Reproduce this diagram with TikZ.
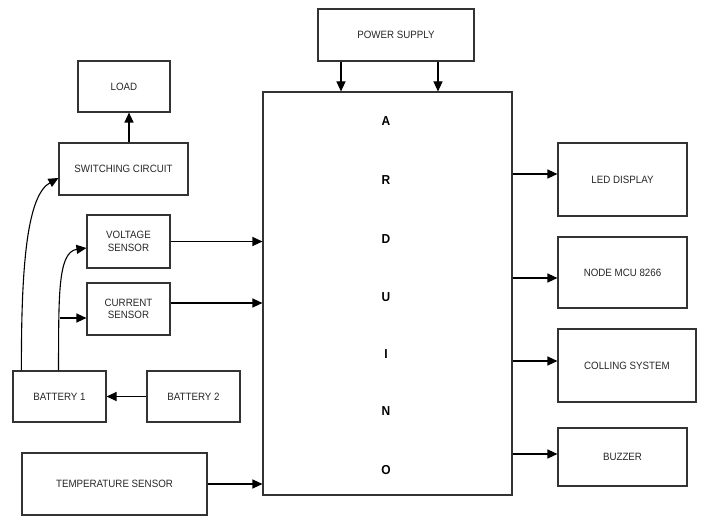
\documentclass[tikz,border=0pt]{standalone}
\usepackage{fontspec}
\setmainfont{Liberation Sans}[FakeStretch=0.92]
\usetikzlibrary{arrows.meta}
\begin{document}
\begin{tikzpicture}[x=1pt,y=-1pt,
  box/.style={draw=black!80,line width=1.1pt,rectangle,inner sep=1pt,align=center,font=\fontsize{10.6}{12.5}\selectfont,text=black!85},
  arr/.style={draw=black,line width=1.1pt,-{Triangle[length=10pt,width=9pt]}},
  letter/.style={font=\bfseries\fontsize{13}{15}\selectfont,inner sep=0pt}]
\useasboundingbox (0,0) rectangle (712,516);
% boxes
\node[box,minimum width=92pt,minimum height=51pt] (load) at (124,86.5) {LOAD};
\node[box,minimum width=129pt,minimum height=52pt] (sw) at (123.5,169) {SWITCHING CIRCUIT};
\node[box,minimum width=83pt,minimum height=53pt] (vs) at (128.5,241.5) {VOLTAGE\\SENSOR};
\node[box,minimum width=83pt,minimum height=52pt] (cs) at (128.5,309) {CURRENT\\SENSOR};
\node[box,minimum width=93pt,minimum height=51pt] (b1) at (59.5,396.5) {BATTERY 1};
\node[box,minimum width=93pt,minimum height=51pt] (b2) at (193.5,396.5) {BATTERY 2};
\node[box,minimum width=185pt,minimum height=62pt] (ts) at (114.5,484) {TEMPERATURE SENSOR};
\node[box,minimum width=156pt,minimum height=52pt] (ps) at (396,35) {POWER SUPPLY};
\node[box,minimum width=249pt,minimum height=403pt] (ard) at (387.5,293.5) {};
\node[box,minimum width=129pt,minimum height=73pt] (led) at (622.5,179.5) {LED DISPLAY};
\node[box,minimum width=129pt,minimum height=71pt] (mcu) at (622.5,272.5) {NODE MCU 8266};
\node[box,minimum width=138pt,minimum height=73pt] (cool) at (627,365.5) {COLLING SYSTEM};
\node[box,minimum width=129pt,minimum height=58pt] (buz) at (622.5,457) {BUZZER};
% Arduino letters
\node[letter] (lA) at (386,121) {A};
\node[letter] (lR) at (386,180) {R};
\node[letter] (lD) at (386,239) {D};
\node[letter] (lU) at (386,297) {U};
\node[letter] (lI) at (386,354) {I};
\node[letter] (lN) at (386,411) {N};
\node[letter] (lO) at (386,470) {O};
% connectors
\draw[arr] (sw.north -| 129,0) -- (load.south -| 129,0);
\draw[arr] (ps.south -| 341,0) -- (ard.north -| 341,0);
\draw[arr] (ps.south -| 438,0) -- (ard.north -| 438,0);
\draw[arr] (vs.east) -- (vs.east -| ard.west);
\draw[arr] (cs.east |- 0,303) -- (ard.west |- 0,303);
\draw[arr] (ts.east) -- (ts.east -| ard.west);
\draw[arr] (ard.east |- 0,174) -- (led.west |- 0,174);
\draw[arr] (ard.east |- 0,278) -- (mcu.west |- 0,278);
\draw[arr] (ard.east |- 0,361) -- (cool.west |- 0,361);
\draw[arr] (ard.east |- 0,454) -- (buz.west |- 0,454);
\draw[arr] (b2.west) -- (b1.east);
\draw[arr] ([xshift=9pt]b1.north west) .. controls (21,260) and (28,195) .. ([yshift=-9pt]sw.west);
\draw[arr] ([xshift=46pt]b1.north west) .. controls (59,300) and (57,252) .. ([yshift=-6.5pt]vs.west);
\coordinate (cj) at (60,318);
\draw[arr] (cj) -- (cj -| cs.west);
\end{tikzpicture}
\end{document}
